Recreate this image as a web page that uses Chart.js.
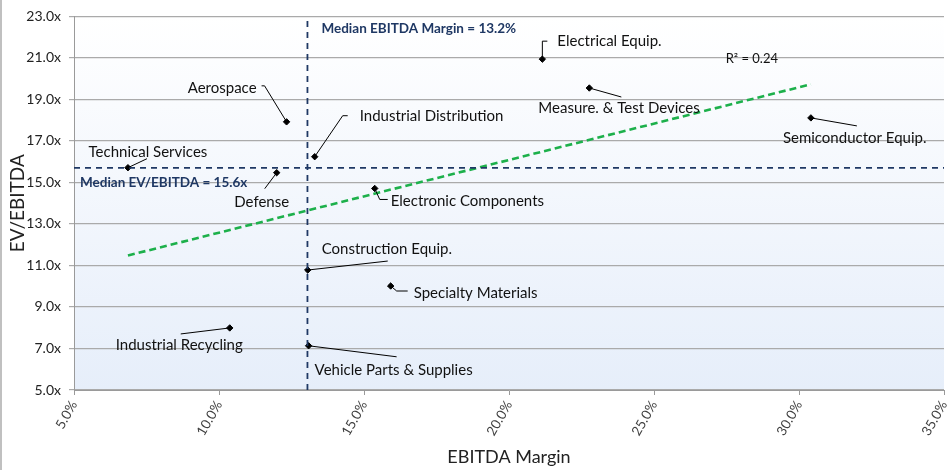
<!DOCTYPE html>
<html>
<head>
<meta charset="utf-8">
<script src="https://cdn.jsdelivr.net/npm/chart.js@4/dist/chart.umd.min.js"></script>
<style>
  body { margin: 0; background: #fff; }
  #wrap { width: 949px; height: 470px; position: relative; }
</style>
</head>
<body>
<div id="wrap"><canvas id="scatterChart"></canvas></div>
<script>
// sectors, EBITDA margin (%) and EV/EBITDA (x)
const sectors = ['Aerospace', 'Technical Services', 'Defense', 'Industrial Distribution',
  'Electrical Equip.', 'Measure. & Test Devices', 'Semiconductor Equip.', 'Electronic Components',
  'Construction Equip.', 'Specialty Materials', 'Industrial Recycling', 'Vehicle Parts & Supplies'];
const margins = [12.33, 6.86, 11.99, 13.30, 21.15, 22.77, 30.41, 15.37, 13.06, 15.92, 10.37, 13.09];
const multiples = [17.92, 15.71, 15.47, 16.24, 20.94, 19.55, 18.11, 14.71, 10.78, 10.01, 7.99, 7.13];

const medianMargin = 13.05;
const medianMultiple = 15.7;
const trendX = [6.86, 30.41];
const trendY = [11.48, 19.73];

const xTicks = [5, 10, 15, 20, 25, 30, 35];
const yTicks = [5, 7, 9, 11, 13, 15, 17, 19, 21, 23];

const FONT = 'Lato, "Open Sans", sans-serif';

// label placement relative to each point: text anchor, alignment, leader line
const labelLayout = [
  { dx: -30, dy: -34, align: 'right', line: [[-22, -36], [-25, -36]] },
  { dx: 20, dy: -16, align: 'center', line: [[19, -9]] },
  { dx: -15, dy: 29, align: 'center', line: [[-12, 16]] },
  { dx: 45, dy: -41, align: 'left', line: [[28, -41], [33, -41]] },
  { dx: 15, dy: -18, align: 'left', line: [[0, -18], [5, -18]] },
  { dx: -51, dy: 20, align: 'left', line: [[32, 9]] },
  { dx: -28, dy: 20, align: 'left', line: [[46, 8]] },
  { dx: 16, dy: 13, align: 'left', line: [[5, 11], [13, 11]] },
  { dx: 14, dy: -21, align: 'left', line: [[80, -9]] },
  { dx: 23, dy: 7, align: 'left', line: [[6, 5], [17, 5]] },
  { dx: -114, dy: 17, align: 'left', line: [[-49, 6]] },
  { dx: 6, dy: 24, align: 'left', line: [[88, 11]] }
];

const plotBackground = {
  id: 'plotBackground',
  beforeDraw(chart) {
    const { ctx, chartArea: a } = chart;
    const g = ctx.createLinearGradient(0, a.top, 0, a.bottom);
    g.addColorStop(0, '#ffffff');
    g.addColorStop(1, '#e6eefa');
    ctx.save();
    ctx.fillStyle = g;
    ctx.fillRect(a.left, a.top, a.right - a.left, a.bottom - a.top);
    ctx.fillStyle = '#c0c0c0';
    ctx.fillRect(0, 0, 2, chart.height);
    ctx.restore();
  }
};

const annotations = {
  id: 'annotations',
  afterDatasetsDraw(chart) {
    const { ctx, scales } = chart;
    const meta = chart.getDatasetMeta(3);
    ctx.save();
    ctx.font = '15px ' + FONT;
    ctx.textBaseline = 'middle';
    meta.data.forEach((pt, i) => {
      const L = labelLayout[i];
      ctx.strokeStyle = '#000';
      ctx.lineWidth = 1;
      ctx.beginPath();
      ctx.moveTo(pt.x, pt.y);
      L.line.forEach(p => ctx.lineTo(pt.x + p[0], pt.y + p[1]));
      ctx.stroke();
      ctx.fillStyle = '#111';
      ctx.textAlign = L.align;
      ctx.fillText(sectors[i], pt.x + L.dx, pt.y + L.dy);
    });
    // median labels
    ctx.font = 'bold 13.5px ' + FONT;
    ctx.fillStyle = '#1f3864';
    ctx.textAlign = 'left';
    const mx = scales.x.getPixelForValue(medianMargin);
    ctx.fillText('Median EBITDA Margin = ' + (13.2).toFixed(1) + '%', mx + 14, scales.y.getPixelForValue(22.4));
    const my = scales.y.getPixelForValue(medianMultiple);
    ctx.fillText('Median EV/EBITDA = ' + (15.6).toFixed(1) + 'x', scales.x.left + 6, my + 15);
    ctx.font = '13px ' + FONT;
    ctx.fillStyle = '#111';
    ctx.fillText('R\u00b2 = 0.24', scales.x.getPixelForValue(27.47), scales.y.getPixelForValue(20.9) - 1);
    ctx.restore();
  }
};

new Chart(document.getElementById('scatterChart'), {
  type: 'scatter',
  data: {
    datasets: [
      {
        label: 'Median EBITDA Margin',
        type: 'line',
        data: [{ x: medianMargin, y: yTicks[0] }, { x: medianMargin, y: yTicks[yTicks.length - 1] }],
        borderColor: '#1f3864',
        borderWidth: 1.8,
        borderDash: [6, 5],
        pointRadius: 0
      },
      {
        label: 'Median EV/EBITDA',
        type: 'line',
        data: [{ x: xTicks[0], y: medianMultiple }, { x: xTicks[xTicks.length - 1], y: medianMultiple }],
        borderColor: '#1f3864',
        borderWidth: 1.8,
        borderDash: [6, 5],
        pointRadius: 0
      },
      {
        label: 'Trend',
        type: 'line',
        data: trendX.map((x, i) => ({ x: x, y: trendY[i] })),
        borderColor: '#1db04b',
        borderWidth: 2.6,
        borderDash: [7, 4],
        pointRadius: 0
      },
      {
        label: 'Sectors',
        data: margins.map((m, i) => ({ x: m, y: multiples[i] })),
        pointStyle: 'rectRot',
        pointRadius: 3.2,
        backgroundColor: '#000',
        borderColor: '#000'
      }
    ]
  },
  options: {
    responsive: true,
    maintainAspectRatio: false,
    animation: false,
    layout: { padding: { top: 15, right: 4 } },
    plugins: {
      legend: { display: false },
      tooltip: { enabled: false }
    },
    scales: {
      x: {
        type: 'linear',
        min: xTicks[0],
        max: xTicks[xTicks.length - 1],
        afterFit: s => { s.height = 80; s.paddingLeft = 0; s.paddingRight = 0; },
        afterBuildTicks: s => { s.ticks = xTicks.map(v => ({ value: v })); },
        ticks: {
          minRotation: 60,
          maxRotation: 60,
          color: '#404040',
          font: { family: FONT, size: 13.5 },
          callback: v => v.toFixed(1) + '%'
        },
        grid: { drawOnChartArea: false, drawTicks: true, tickLength: 5, color: '#9a9a9a' },
        border: { color: '#9a9a9a' },
        title: { display: true, text: 'EBITDA Margin', color: '#222', font: { family: FONT, size: 18 }, padding: { top: 0, bottom: 2 } }
      },
      y: {
        min: yTicks[0],
        max: yTicks[yTicks.length - 1],
        afterFit: s => { s.width = 74; },
        afterBuildTicks: s => { s.ticks = yTicks.map(v => ({ value: v })); },
        ticks: {
          color: '#222',
          font: { family: FONT, size: 14 },
          padding: 8,
          callback: v => v.toFixed(1) + 'x'
        },
        grid: { color: '#aaaaaa', lineWidth: 1.2, tickLength: 5 },
        border: { color: '#9a9a9a' },
        title: { display: true, text: 'EV/EBITDA', color: '#222', font: { family: FONT, size: 19 }, padding: { top: 6, bottom: 0 } }
      }
    }
  },
  plugins: [plotBackground, annotations]
});
</script>
</body>
</html>
